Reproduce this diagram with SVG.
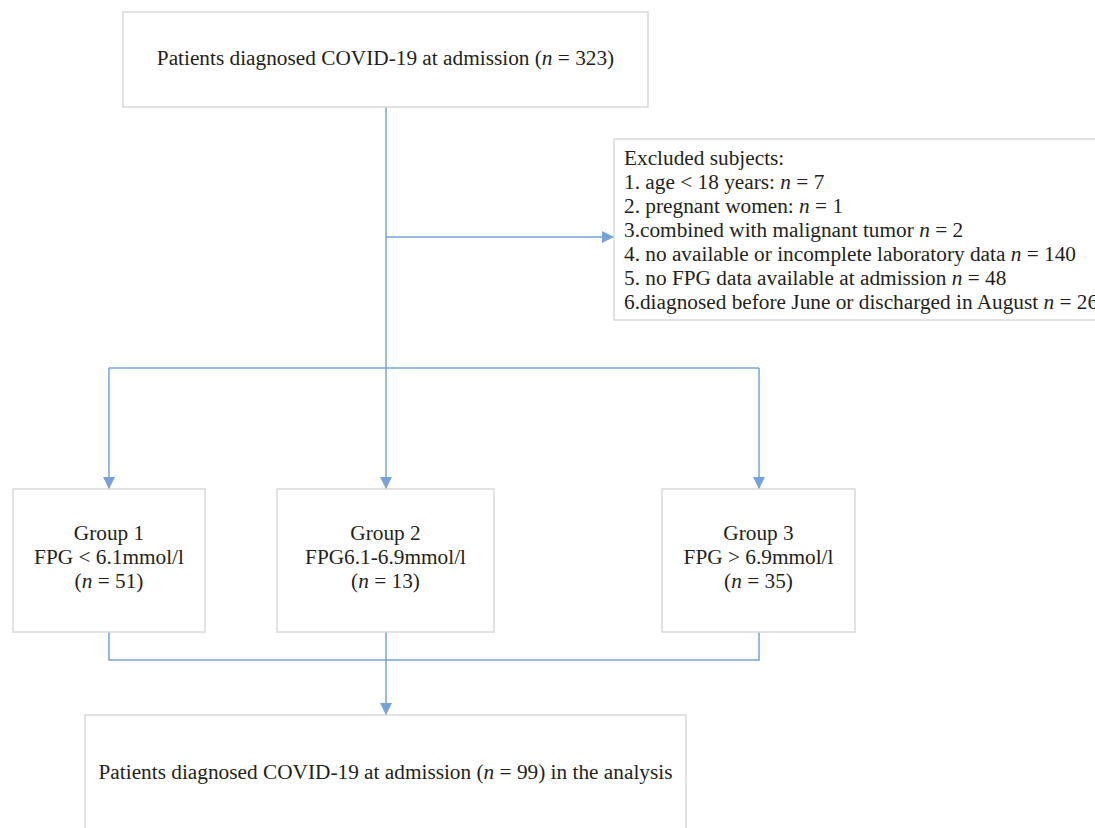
<svg xmlns="http://www.w3.org/2000/svg" width="1095" height="828" viewBox="0 0 1095 828">
<style>
.box{fill:#ffffff;stroke:#d9d9d9;stroke-width:1.5}
.t{font-family:"Liberation Serif","Times New Roman",serif;font-size:21.3px;fill:#231f20}
.c{text-anchor:middle}
.i{font-style:italic}
.ln{fill:none;stroke:#74a3d9;stroke-width:1.5}
</style>
<defs>
<marker id="ah" markerUnits="userSpaceOnUse" markerWidth="12" markerHeight="12" viewBox="0 0 11 11" refX="11" refY="5.5" orient="auto">
<path d="M0,0 L11,5.5 L0,11 z" fill="#74a3d9"/>
</marker>
</defs>
<rect width="1095" height="828" fill="#ffffff"/>
<g id="connectors">
<path class="ln" d="M386 107 V489" marker-end="url(#ah)"/>
<path class="ln" d="M386 237 H614" marker-end="url(#ah)"/>
<path class="ln" d="M109 368 H759"/>
<path class="ln" d="M109 368 V489" marker-end="url(#ah)"/>
<path class="ln" d="M759 368 V489" marker-end="url(#ah)"/>
<path class="ln" d="M109 632 V660 H759 V632"/>
<path class="ln" d="M386 632 V715" marker-end="url(#ah)"/>
</g>
<g id="top">
<rect class="box" x="123" y="12" width="525" height="95"/>
<text class="t c" x="385.5" y="65">Patients diagnosed COVID-19 at admission (<tspan class="i">n</tspan> = 323)</text>
</g>
<g id="excluded">
<rect class="box" x="614" y="139" width="500" height="181"/>
<text class="t" x="624" y="165">Excluded subjects:</text>
<text class="t" x="624" y="189">1. age &lt; 18 years: <tspan class="i">n</tspan> = 7</text>
<text class="t" x="624" y="213">2. pregnant women: <tspan class="i">n</tspan> = 1</text>
<text class="t" x="624" y="237">3.combined with malignant tumor <tspan class="i">n</tspan> = 2</text>
<text class="t" x="624" y="261">4. no available or incomplete laboratory data <tspan class="i">n</tspan> = 140</text>
<text class="t" x="624" y="285">5. no FPG data available at admission <tspan class="i">n</tspan> = 48</text>
<text class="t" x="624" y="309">6.diagnosed before June or discharged in August <tspan class="i">n</tspan> = 26</text>
</g>
<g id="group1">
<rect class="box" x="13" y="489" width="192" height="143"/>
<text class="t c" x="109" y="540">Group 1</text>
<text class="t c" x="109" y="564">FPG &lt; 6.1mmol/l</text>
<text class="t c" x="109" y="588">(<tspan class="i">n</tspan> = 51)</text>
</g>
<g id="group2">
<rect class="box" x="277" y="489" width="217" height="143"/>
<text class="t c" x="385.5" y="540">Group 2</text>
<text class="t c" x="385.5" y="564">FPG6.1-6.9mmol/l</text>
<text class="t c" x="385.5" y="588">(<tspan class="i">n</tspan> = 13)</text>
</g>
<g id="group3">
<rect class="box" x="662" y="489" width="193" height="143"/>
<text class="t c" x="758.5" y="540">Group 3</text>
<text class="t c" x="758.5" y="564">FPG &gt; 6.9mmol/l</text>
<text class="t c" x="758.5" y="588">(<tspan class="i">n</tspan> = 35)</text>
</g>
<g id="final">
<rect class="box" x="85" y="715" width="601" height="130"/>
<text class="t c" x="385.5" y="779">Patients diagnosed COVID-19 at admission (<tspan class="i">n</tspan> = 99) in the analysis</text>
</g>
</svg>
